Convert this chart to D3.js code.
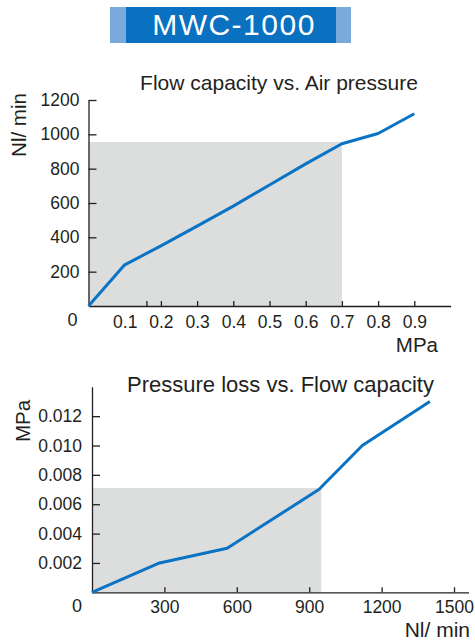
<html>
  <head>
    <meta charset="utf-8">
    <title>MWC-1000</title>
    <style>
      body { margin: 0; background: #fff; }
      text { font-family: "Liberation Sans", Arial, sans-serif; fill: #231f20; }
      .axis path, .axis line { stroke: #231f20; stroke-width: 1.3; }
      .axis text { font-size: 17.5px; fill: #231f20; font-family: "Liberation Sans", Arial, sans-serif; }
    </style>
    <script src="https://d3js.org/d3.v7.min.js"></script>
  </head>
  <body>
    <svg id="chart"></svg>
    <script>
      // Data
      let pressure = [0, 0.1, 0.2, 0.3, 0.4, 0.5, 0.6, 0.7, 0.8, 0.9];        // MPa
      let flowAtPressure = [0, 240, 350, 465, 582, 705, 828, 945, 1005, 1120]; // Nl/min
      let pressureTickLabels = [0.1, 0.2, 0.3, 0.4, 0.5, 0.6, 0.7, 0.8, 0.9];
      let pressureTickMarks = [0.16, 0.2, 0.3, 0.4, 0.5, 0.6, 0.7, 0.8, 0.9];
      let flowTicks = [200, 400, 600, 800, 1000, 1200];
      let zone1 = [0.7, 955]; // shaded working range (MPa, Nl/min)

      let flow = [0, 280, 560, 940, 1120, 1400];                   // Nl/min
      let lossAtFlow = [0, 0.002, 0.003, 0.007, 0.010, 0.013];      // MPa
      let flowTicks2 = [300, 600, 900, 1200, 1500];
      let lossTicks = [0.002, 0.004, 0.006, 0.008, 0.010, 0.012];
      let zone2 = [950, 0.0071];

      let W = 475, H = 641;
      let svg = d3.select('#chart').attr('width', W).attr('height', H);
      let blue = '#0b73c3';

      // Banner
      svg.append('rect').attr('x', 110).attr('y', 7).attr('width', 241).attr('height', 36).attr('fill', '#7aa9dc');
      svg.append('rect').attr('x', 126).attr('y', 7).attr('width', 210).attr('height', 36).attr('fill', '#0a70c0');
      svg.append('text')
        .attr('x', 234).attr('y', 35)
        .attr('text-anchor', 'middle')
        .style('fill', '#fff')
        .style('font-size', '30px')
        .style('letter-spacing', '1.5px')
        .text('MWC-1000');

      // ---- Chart 1: Flow capacity vs. Air pressure
      let x1 = d3.scaleLinear().domain([0, 1.0]).range([88.5, 450.5]);
      let y1 = d3.scaleLinear().domain([0, 1200]).range([306, 100]);
      let g1 = svg.append('g');

      g1.append('rect')
        .attr('x', x1(0)).attr('y', y1(zone1[1]))
        .attr('width', x1(zone1[0]) - x1(0))
        .attr('height', y1(0) - y1(zone1[1]))
        .attr('fill', '#dcdddd');

      g1.append('g').attr('class', 'axis')
        .attr('transform', `translate(0,${y1(0)})`)
        .call(d3.axisBottom(x1).tickValues(pressureTickMarks).tickFormat('').tickSize(-5).tickSizeOuter(0));
      g1.append('g').attr('class', 'axis')
        .attr('transform', `translate(0,${y1(0)})`)
        .call(d3.axisBottom(x1).tickValues(pressureTickLabels).tickFormat(d3.format('.1f')).tickSize(0).tickPadding(9.5))
        .call(g => g.select('.domain').remove());
      g1.append('g').attr('class', 'axis')
        .attr('transform', `translate(${x1(0)},0)`)
        .call(d3.axisLeft(y1).tickValues(flowTicks).tickFormat(d3.format('d')).tickSize(-8).tickSizeOuter(0).tickPadding(9));

      g1.append('path')
        .datum(pressure.map((p, i) => [p, flowAtPressure[i]]))
        .attr('fill', 'none').attr('stroke', blue).attr('stroke-width', 3)
        .attr('stroke-linejoin', 'round')
        .attr('d', d3.line().x(d => x1(d[0])).y(d => y1(d[1])));

      g1.append('text').attr('x', x1(0) - 16).attr('y', 326)
        .attr('text-anchor', 'middle').style('font-size', '18px').text('0');
      g1.append('text').attr('x', 279).attr('y', 90)
        .attr('text-anchor', 'middle').style('font-size', '21px').text('Flow capacity vs. Air pressure');
      g1.append('text').attr('x', 438).attr('y', 352)
        .attr('text-anchor', 'end').style('font-size', '20.5px').text('MPa');
      g1.append('text').attr('transform', 'translate(26,125) rotate(-90)')
        .attr('text-anchor', 'middle').style('font-size', '20.5px').text('Nl/ min');

      // ---- Chart 2: Pressure loss vs. Flow capacity
      let x2 = d3.scaleLinear().domain([0, 1560]).range([92, 468.5]);
      let y2 = d3.scaleLinear().domain([0, 0.014]).range([592.3, 386.8]);
      let g2 = svg.append('g');

      g2.append('rect')
        .attr('x', x2(0)).attr('y', y2(zone2[1]))
        .attr('width', x2(zone2[0]) - x2(0))
        .attr('height', y2(0) - y2(zone2[1]))
        .attr('fill', '#dcdddd');

      g2.append('g').attr('class', 'axis')
        .attr('transform', `translate(0,${y2(0)})`)
        .call(d3.axisBottom(x2).tickValues(flowTicks2).tickFormat(d3.format('d')).tickSize(-5).tickSizeOuter(0).tickPadding(8));
      g2.append('g').attr('class', 'axis')
        .attr('transform', `translate(${x2(0)},0)`)
        .call(d3.axisLeft(y2).tickValues(lossTicks).tickFormat(d3.format('.3f')).tickSize(-8).tickSizeOuter(0).tickPadding(10));

      g2.append('path')
        .datum(flow.map((f, i) => [f, lossAtFlow[i]]))
        .attr('fill', 'none').attr('stroke', blue).attr('stroke-width', 3)
        .attr('stroke-linejoin', 'round')
        .attr('d', d3.line().x(d => x2(d[0])).y(d => y2(d[1])));

      g2.append('text').attr('x', x2(0) - 15).attr('y', 612)
        .attr('text-anchor', 'middle').style('font-size', '18px').text('0');
      g2.append('text').attr('x', 280.5).attr('y', 391.5)
        .attr('text-anchor', 'middle').style('font-size', '22px').text('Pressure loss vs. Flow capacity');
      g2.append('text').attr('x', 470).attr('y', 636.5)
        .attr('text-anchor', 'end').style('font-size', '21px').text('Nl/ min');
      g2.append('text').attr('transform', 'translate(30,421) rotate(-90)')
        .attr('text-anchor', 'middle').style('font-size', '20.5px').text('MPa');
    </script>
  </body>
</html>
